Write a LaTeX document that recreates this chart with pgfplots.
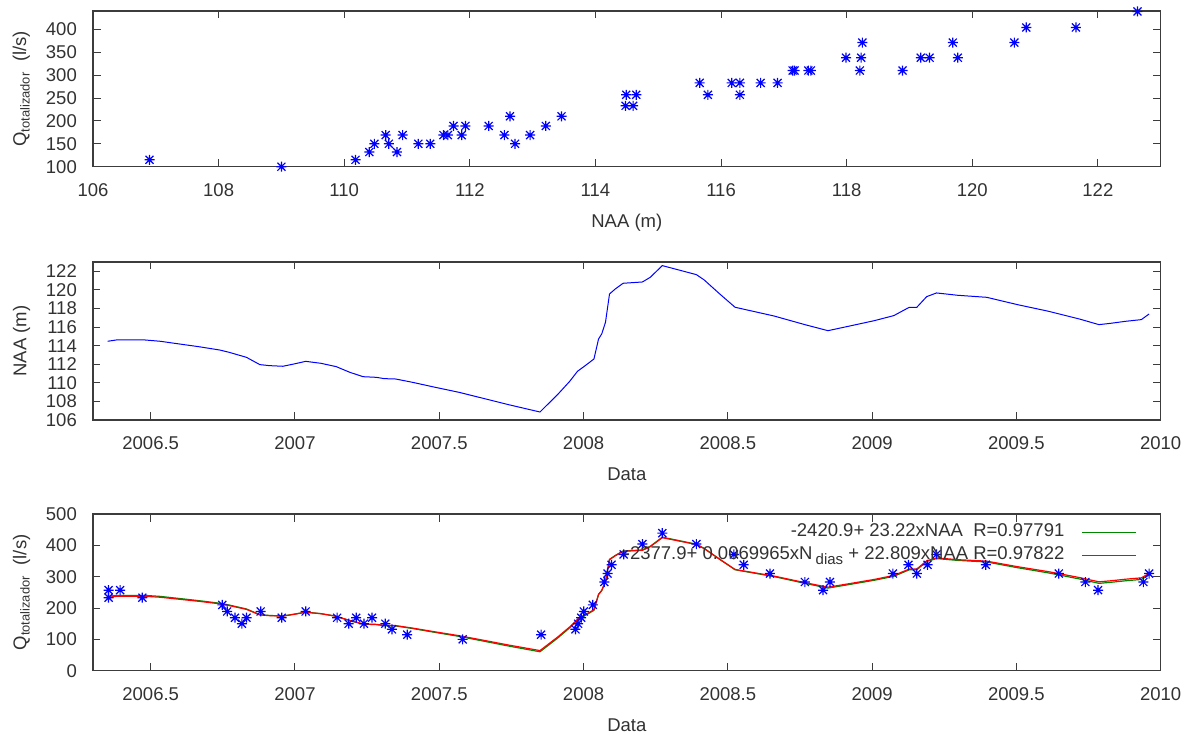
\documentclass[border=0pt]{standalone}
\usepackage{fontspec}
\setmainfont{Liberation Sans}
\usepackage{pgfplots}
\pgfplotsset{compat=1.18}
\usepackage{pgfplotstable}

\definecolor{gpblue}{RGB}{0,0,255}
\definecolor{gpgreen}{RGB}{0,135,0}
\definecolor{gpred}{RGB}{255,0,0}
\definecolor{gptext}{RGB}{50,50,50}
\definecolor{gpaxis}{RGB}{60,60,60}

\pgfdeclareplotmark{gstar}{%
  \pgfpathmoveto{\pgfqpoint{-\pgfplotmarksize}{0pt}}%
  \pgfpathlineto{\pgfqpoint{\pgfplotmarksize}{0pt}}%
  \pgfpathmoveto{\pgfqpoint{0pt}{-\pgfplotmarksize}}%
  \pgfpathlineto{\pgfqpoint{0pt}{\pgfplotmarksize}}%
  \pgfpathmoveto{\pgfqpoint{-0.8\pgfplotmarksize}{-0.8\pgfplotmarksize}}%
  \pgfpathlineto{\pgfqpoint{0.8\pgfplotmarksize}{0.8\pgfplotmarksize}}%
  \pgfpathmoveto{\pgfqpoint{-0.8\pgfplotmarksize}{0.8\pgfplotmarksize}}%
  \pgfpathlineto{\pgfqpoint{0.8\pgfplotmarksize}{-0.8\pgfplotmarksize}}%
  \pgfusepathqstroke}

% Q vs NAA
\pgfplotstableread{
naa q
106.90 115
109.00 100
110.18 115
110.40 132
110.48 150
110.66 169
110.71 150
110.84 132
110.93 169
111.18 150
111.37 150
111.58 169
111.65 169
111.74 189
111.87 169
111.93 189
112.30 189
112.55 169
112.64 210
112.72 150
112.96 169
113.21 189
113.46 210
114.48 233
114.60 233
114.49 257
114.65 257
115.66 283
115.79 257
116.17 283
116.30 283
116.30 257
116.63 283
116.90 283
117.14 310
117.17 310
117.39 310
117.43 310
117.99 338
118.23 338
118.21 310
118.25 371
118.89 310
119.18 338
119.32 338
119.69 371
119.77 338
120.67 371
120.86 404
121.65 404
122.63 439
}\qnaa

% Q vs date
\pgfplotstableread{
t q
2006.354 257
2006.354 233
2006.394 257
2006.471 233
2006.748 210
2006.765 189
2006.792 169
2006.816 150
2006.832 169
2006.881 189
2006.954 169
2007.037 189
2007.146 169
2007.186 150
2007.212 169
2007.239 150
2007.267 169
2007.313 150
2007.336 132
2007.389 115
2007.581 100
2007.853 115
2007.972 132
2007.981 150
2007.992 169
2008.001 189
2008.032 210
2008.072 283
2008.083 310
2008.097 338
2008.139 371
2008.204 404
2008.273 439
2008.391 404
2008.521 371
2008.555 338
2008.646 310
2008.767 283
2008.830 257
2008.854 283
2009.072 310
2009.126 338
2009.155 310
2009.192 338
2009.223 371
2009.394 338
2009.647 310
2009.739 283
2009.783 257
2009.940 283
2009.960 310
}\qdate

% NAA vs date, with the two fitted discharges
\pgfplotstableread{
t naa green red
2006.351 114.47 237.1 234.0
2006.381 114.61 240.3 237.2
2006.480 114.61 240.3 237.4
2006.533 114.47 237.1 234.4
2006.599 114.18 230.4 228.0
2006.666 113.89 223.6 221.5
2006.739 113.53 215.3 213.5
2006.772 113.28 209.5 207.9
2006.832 112.74 196.9 195.7
2006.878 111.96 178.8 178.0
2006.911 111.85 176.3 175.7
2006.958 111.78 174.6 174.1
2006.997 112.03 180.4 179.9
2007.037 112.31 186.9 186.4
2007.090 112.10 182.1 181.8
2007.143 111.74 173.7 173.7
2007.190 111.13 159.5 159.9
2007.236 110.66 148.6 149.3
2007.282 110.59 147.0 147.8
2007.309 110.45 143.7 144.7
2007.349 110.41 142.8 143.9
2007.408 110.05 134.5 135.9
2007.475 109.59 123.8 125.5
2007.568 108.98 109.6 111.8
2007.647 108.37 95.5 98.2
2007.740 107.65 78.7 81.9
2007.849 106.86 60.4 64.2
2007.912 108.80 105.4 108.6
2007.952 110.16 137.0 139.7
2007.979 111.24 162.1 164.4
2008.001 111.74 173.7 175.9
2008.036 112.56 192.7 194.6
2008.052 114.72 242.9 244.0
2008.063 115.26 255.4 256.3
2008.076 116.51 284.5 284.9
2008.090 119.56 355.3 354.5
2008.110 120.10 367.8 366.8
2008.137 120.71 382.0 380.9
2008.204 120.85 385.2 384.2
2008.231 121.35 396.9 395.7
2008.273 122.61 426.1 424.5
2008.391 121.64 403.6 402.7
2008.418 121.07 390.3 389.7
2008.472 119.56 355.3 355.5
2008.525 118.13 322.1 323.0
2008.660 117.19 300.3 301.9
2008.767 116.26 278.7 281.0
2008.847 115.61 263.6 266.4
2008.928 116.15 276.1 278.8
2009.008 116.69 288.6 291.3
2009.075 117.23 301.2 303.9
2009.129 118.13 322.1 324.5
2009.155 118.13 322.1 324.6
2009.189 119.27 348.5 350.6
2009.223 119.67 357.8 359.9
2009.296 119.42 352.0 354.3
2009.397 119.20 346.9 349.6
2009.504 118.41 328.6 331.9
2009.611 117.70 312.1 316.0
2009.718 116.87 292.8 297.3
2009.786 116.26 278.7 283.6
2009.826 116.40 281.9 286.8
2009.879 116.62 287.0 292.0
2009.933 116.80 291.2 296.3
2009.960 117.41 305.4 310.3
}\naadate

\pgfplotsset{
  gp/.style={
    scale only axis,
    anchor=south west,
    width=1067.7pt,
    clip=false,
    font=\fontsize{18.5}{22}\selectfont,
    /pgf/number format/assume math mode=true,
    axis line style={gpaxis, line width=1.2pt},
    tick style={gpaxis, line width=1pt},
    tick align=inside,
    major tick length=7.5pt,
    minor tick num=0,
    ticklabel style={text=gptext},
    label style={text=gptext},
    yticklabel style={anchor=east, inner sep=0pt, xshift=-16pt},
    xticklabel style={anchor=north, inner sep=0pt, yshift=-16.5pt},
    xlabel style={at={(axis description cs:0.5,0)}, anchor=base, inner sep=0pt, yshift=-61pt},
    ylabel style={at={(axis description cs:-0.067,0.5)}, anchor=center, inner sep=0pt},
    scaled ticks=false,
  },
  dateaxis/.style={
    xmin=2006.3, xmax=2010,
    xtick={2006.5,2007,2007.5,2008,2008.5,2009,2009.5,2010},
    xticklabel style={/pgf/number format/.cd, fixed, precision=1, 1000 sep={}},
    xlabel={Data},
  },
  star/.style={only marks, mark=gstar, mark size=5pt, gpblue, line width=1.2pt},
}

\begin{document}
\begin{tikzpicture}
\useasboundingbox (0,0) rectangle (1187pt,736pt);

% top: Q vs NAA
\begin{axis}[gp,
  at={(93pt,569.3pt)}, height=155.7pt,
  xmin=106, xmax=123, ymin=100, ymax=440,
  xtick={106,108,...,122}, ytick={100,150,...,400},
  xlabel={NAA (m)},
  ylabel={Q\textsubscript{totalizador}\ \ (l/s)},
]
\addplot[star] table[x=naa, y=q] {\qnaa};
\end{axis}

% middle: NAA vs date
\begin{axis}[gp, dateaxis,
  at={(93pt,316pt)}, height=158pt,
  ymin=106, ymax=123,
  ytick={106,108,...,122},
  ylabel={NAA (m)},
]
\addplot[gpblue, line width=1pt, no marks] table[x=t, y=naa] {\naadate};
\end{axis}

% bottom: Q vs date with fits
\begin{axis}[gp, dateaxis,
  at={(93pt,65.3pt)}, height=156.7pt,
  ymin=0, ymax=500,
  ytick={0,100,...,500},
  ylabel={Q\textsubscript{totalizador}\ \ (l/s)},
  legend plot pos=right,
  legend cell align=right,
  legend image code/.code={\draw[#1, line width=1.6pt] (0pt,0pt) -- (54pt,0pt);},
  legend style={at={(rel axis cs:1,1)}, anchor=north east, xshift=-23.5pt, yshift=-8.6pt,
    draw=none, fill=none, inner sep=0pt, column sep=17pt, row sep=4pt,
    nodes={inner sep=0pt, text height=14pt, text depth=5pt, text=gptext}},
]
\addplot[draw=gpgreen, color=gpgreen, line width=1.2pt, no marks] table[x=t, y=green] {\naadate};
\addlegendentry{-2420.9+ 23.22xNAA\ \ R=0.97791}
\addplot[draw=gpred, color=gpred, line width=1.2pt, no marks] table[x=t, y=red] {\naadate};
\addlegendentry{-2377.9+ 0.0069965xN\,\raisebox{-4.5pt}{\fontsize{15}{15}\selectfont dias} + 22.809xNAA\ R=0.97822}
\addplot[star, forget plot] table[x=t, y=q] {\qdate};
\end{axis}
\end{tikzpicture}
\end{document}
